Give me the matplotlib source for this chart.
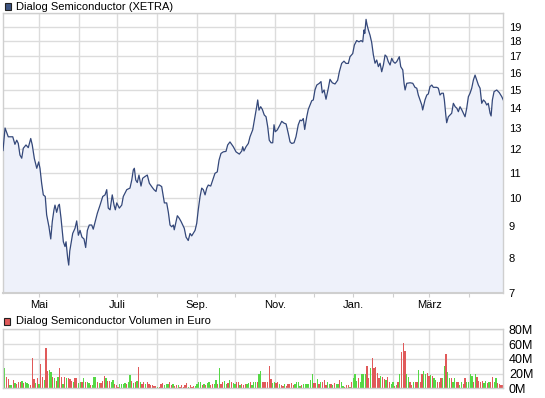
import numpy as np
import matplotlib
matplotlib.use("Agg")
import matplotlib.pyplot as plt
import matplotlib.dates as mdates
from matplotlib.ticker import FixedLocator, NullLocator, FixedFormatter
from matplotlib.patches import Rectangle
import datetime as dt

plt.rcParams['font.family'] = ['Liberation Sans', 'DejaVu Sans']

start_date = dt.datetime(2012, 4, 3)
end_day = 389.7

# price readings: days since start_date, price in EUR
price_day = [0, 1.6, 4.1, 7.6, 9.3, 10.7, 11.9, 13.2, 14.6, 15.8, 17.9, 19.7, 21.6, 22.8, 24.4,
             26.3, 27.8, 28.8, 30.1, 31.4, 32.9, 34.0, 35.8, 37.2, 38.4, 39.7, 40.5, 41.8, 43.1,
             43.9, 45.2, 47.0, 48.3, 49.1, 50.4, 51.2, 52.0, 53.0, 54.3, 56.1, 57.4, 58.7, 60.0,
             61.5, 63.1, 64.4, 65.7, 67.2, 69.1, 70.3, 71.7, 73.5, 75.6, 77.7, 79.5, 80.8, 82.0,
             83.4, 85.1, 86.5, 87.5, 88.6, 90.6, 92.5, 93.7, 96.4, 98.9, 100.3, 101.5, 102.3,
             103.4, 104.6, 105.9, 107.5, 108.8, 110.6, 112.4, 114.0, 115.8, 117.6, 119.2, 120.2,
             121.8, 123.6, 124.9, 125.7, 127.5, 128.8, 130.1, 131.4, 132.7, 133.4, 134.8, 135.8,
             137.3, 138.7, 140.0, 141.2, 142.6, 144.3, 145.7, 147.0, 148.2, 149.6, 150.9, 152.1,
             153.5, 154.8, 156.0, 157.4, 158.7, 159.9, 161.8, 163.4, 165.1, 166.9, 168.3, 169.8,
             171.6, 173.7, 175.0, 176.8, 179.4, 181.5, 184.1, 186.0, 186.7, 187.7, 189.3, 191.1,
             192.4, 194.5, 196.3, 197.6, 198.4, 199.4, 200.7, 202.0, 203.5, 204.9, 206.2, 207.4,
             208.8, 210.1, 211.1, 212.1, 213.7, 215.8, 217.1, 218.9, 220.5, 222.2, 223.6, 224.9,
             226.7, 228.2, 230.0, 231.4, 232.7, 233.9, 235.0, 236.6, 237.8, 239.2, 240.5, 241.7,
             243.0, 244.4, 246.4, 247.7, 248.7, 250.1, 251.6, 253.4, 254.7, 256.5, 258.6, 260.7,
             262.0, 263.8, 265.6, 267.2, 269.0, 270.3, 272.4, 273.7, 275.5, 277.3, 278.9, 280.2,
             281.2, 281.8, 282.8, 283.6, 284.6, 285.9, 287.2, 288.5, 289.8, 291.1, 292.4, 293.7,
             295.0, 296.3, 297.6, 298.9, 300.1, 301.5, 302.8, 304.0, 305.4, 306.7, 308.7, 309.8,
             311.4, 312.4, 313.2, 314.5, 317.1, 319.2, 320.9, 322.3, 323.5, 324.8, 326.2, 326.9,
             328.7, 330.1, 331.3, 332.6, 334.0, 335.2, 337.9, 339.1, 340.4, 341.7, 343.0, 343.8,
             344.9, 345.6, 346.9, 348.2, 349.5, 350.8, 352.2, 353.5, 354.7, 356.0, 357.4, 358.6,
             359.9, 361.2, 362.5, 363.8, 365.1, 366.4, 367.7, 369.0, 370.3, 371.6, 372.9, 374.2,
             375.5, 376.8, 378.0, 379.4, 380.2, 381.2, 382.5, 384.6, 386.6, 388.5, 389.7]
price = [11.95, 13.0, 12.58, 12.58, 12.23, 12.42, 12.27, 11.75, 11.61, 12.05, 12.2, 12.08, 12.5,
         12.2, 11.6, 11.18, 11.45, 11.18, 10.57, 10.12, 10.06, 9.39, 8.98, 8.58, 9.16, 9.57, 9.74,
         9.48, 9.72, 9.77, 9.27, 8.49, 8.34, 8.49, 7.98, 7.78, 8.2, 8.44, 8.76, 8.93, 9.18, 8.7,
         8.86, 8.64, 8.58, 8.31, 8.86, 9.04, 9.04, 8.9, 9.14, 9.45, 9.74, 10.06, 10.12, 10.32, 9.63,
         9.57, 10.12, 9.74, 9.57, 9.82, 9.63, 9.74, 10.06, 10.32, 10.38, 10.7, 11.11, 11.18, 10.7,
         10.6, 10.9, 10.46, 10.77, 10.84, 10.9, 10.57, 10.44, 10.32, 10.25, 10.5, 10.5, 10.44,
         10.06, 9.82, 9.82, 9.48, 9.04, 8.98, 9.04, 8.88, 9.16, 9.36, 9.27, 9.16, 9.04, 8.93, 8.64,
         8.53, 8.76, 8.68, 8.76, 8.86, 9.1, 9.57, 10.06, 10.38, 10.32, 10.12, 10.38, 10.5, 10.46,
         10.7, 10.97, 11.03, 11.53, 11.82, 11.89, 11.91, 12.2, 12.34, 12.12, 11.89, 11.79, 11.93,
         12.12, 11.93, 12.12, 12.27, 12.58, 12.91, 13.56, 14.08, 14.44, 13.9, 14.08, 13.94, 13.65,
         13.56, 13.06, 12.42, 12.3, 12.3, 13.16, 12.82, 12.91, 13.16, 13.33, 13.24, 13.2, 12.74,
         12.34, 12.27, 12.3, 12.58, 13.16, 13.39, 13.36, 13.47, 12.93, 13.56, 13.94, 14.17, 14.4,
         14.44, 14.99, 15.27, 15.37, 15.47, 14.83, 14.99, 14.48, 15.09, 15.6, 15.4, 15.33, 15.55,
         16.05, 16.56, 16.7, 16.56, 16.56, 16.98, 17.18, 17.74, 18.04, 17.95, 18.04, 17.95, 18.77,
         18.53, 19.53, 19.12, 18.77, 18.4, 17.9, 17.09, 16.57, 16.77, 16.36, 16.57, 16.05, 16.46,
         17.09, 16.98, 16.67, 16.46, 16.88, 16.67, 16.57, 16.67, 16.98, 16.36, 16.16, 15.37, 14.99,
         15.37, 15.4, 15.37, 15.14, 15.09, 14.71, 14.44, 14.17, 13.91, 14.44, 14.71, 14.77, 15.18,
         15.27, 15.14, 15.14, 15.09, 14.71, 14.81, 14.81, 14.44, 13.65, 13.26, 13.56, 13.65, 13.74,
         14.26, 14.08, 14.0, 13.82, 14.08, 13.91, 13.74, 13.56, 14.0, 14.62, 14.81, 15.09, 15.56,
         15.85, 15.56, 15.27, 15.09, 14.26, 14.44, 14.35, 14.17, 14.26, 13.74, 13.6, 14.44, 14.9,
         14.99, 14.84, 14.62, 14.44]

# daily volume in million EUR, and whether the session closed up (1) or down (0)
volume = [9.9, 28.0, 15.8, 12.7, 4.5, 4.5, 11.3, 7.7, 5.4, 8.1, 9.0, 9.9, 6.8, 9.0, 6.8, 6.3,
          4.5, 41.6, 12.7, 6.8, 13.6, 6.3, 32.5, 15.8, 11.3, 54.2, 23.5, 24.9, 22.6, 15.8, 13.6,
          9.9, 15.8, 28.0, 15.8, 6.3, 15.8, 14.5, 13.6, 12.7, 9.9, 9.0, 14.5, 14.5, 7.2, 9.0, 9.0,
          14.5, 8.1, 8.1, 6.8, 4.5, 4.5, 15.8, 15.8, 8.1, 6.8, 6.8, 9.9, 16.3, 14.5, 9.9, 9.9, 8.1,
          10.8, 5.4, 4.5, 2.3, 5.4, 5.4, 5.4, 6.8, 5.4, 9.0, 18.1, 9.9, 6.8, 8.1, 9.9, 29.4, 9.0,
          5.4, 9.0, 6.3, 9.0, 6.3, 4.5, 4.5, 3.6, 3.2, 2.3, 2.3, 5.4, 6.8, 4.5, 5.4, 5.4, 8.1, 4.5,
          5.4, 3.2, 4.5, 4.5, 2.3, 4.5, 2.3, 4.5, 6.8, 2.3, 4.5, 2.3, 3.2, 3.6, 6.3, 9.0, 9.0, 4.5,
          6.3, 4.5, 6.8, 8.1, 4.5, 5.4, 6.3, 11.3, 5.4, 27.1, 5.4, 8.1, 9.9, 5.4, 6.8, 11.3, 9.0,
          6.8, 5.4, 8.1, 8.1, 4.5, 5.4, 4.5, 5.4, 5.4, 6.8, 8.1, 4.5, 8.1, 9.0, 8.1, 19.0, 23.5,
          8.1, 8.1, 8.1, 9.0, 30.3,
          12.7, 6.8, 9.0, 6.8, 8.1, 5.4, 4.5, 3.6, 6.3, 3.6, 5.4, 5.4, 6.8, 4.5, 6.3, 9.0, 9.0,
          3.6, 4.5, 6.3, 5.4, 5.4, 5.4, 11.3, 19.4, 6.8, 6.8, 12.7, 6.3, 8.1, 8.1, 11.3, 4.5, 8.1,
          6.3, 5.4, 4.5, 6.8, 6.3, 5.4, 11.3, 9.0, 3.6, 1.8, 4.5, 4.5, 2.3, 8.1, 13.6, 19.0, 9.9,
          14.5, 9.0, 19.0, 19.0, 19.0, 30.3, 14.5, 27.1, 40.7, 28.0, 29.4, 20.3, 13.6, 16.7, 15.8,
          12.7, 11.3, 15.8, 8.1, 5.4, 9.0, 3.6, 4.5, 8.1, 19.0, 49.7, 61.0, 50.6, 19.0, 15.8, 9.0,
          4.5, 8.1, 9.0, 8.1, 24.9, 9.0, 19.0, 23.5, 19.0, 20.3, 17.2, 18.1, 17.2, 13.6, 11.3, 8.1,
          8.1, 13.6, 14.5, 30.3, 46.1, 22.6, 14.5, 13.6, 9.0, 13.6, 9.0, 8.1, 4.5, 8.1, 5.4, 13.6,
          9.0, 9.0, 19.0, 17.2, 9.0, 19.0, 15.8, 9.9, 9.0, 9.9, 6.8, 9.9, 6.8, 8.1, 9.0, 15.8, 9.0,
          13.6, 6.8, 5.4, 4.5, 4.5]
volume_up = [1, 1, 0, 0, 1, 1, 0, 1, 0, 0, 0, 1, 0, 1, 1, 1, 0, 0, 0, 1, 0, 1, 0, 0, 1, 0, 0, 1,
             1, 0, 1, 0, 1, 0, 0, 1, 0, 1, 0, 0, 0, 1, 0, 0, 1, 1, 0, 1, 0, 1, 1, 0, 1, 1, 1, 0, 1,
             0, 0, 0, 1, 0, 0, 1, 1, 0, 0, 0, 1, 1, 1, 1, 0, 1, 1, 0, 1, 0, 1, 0, 1, 0, 0, 1, 0, 0,
             0, 0, 0, 0, 1, 0, 0, 0, 1, 1, 1, 0, 0, 1, 0, 0, 1, 0, 0, 0, 0, 0, 1, 0, 0, 0, 1, 1, 1,
             1, 0, 1, 0, 1, 1, 0, 0, 1, 1, 0, 1, 0, 0, 1, 1, 0, 1, 0, 1, 1, 0, 0, 1, 0, 0, 0, 1, 1,
             0, 1, 1, 1, 0, 1, 1, 0, 0, 0, 0, 0,
             0, 1, 1, 0, 0, 1, 0, 0, 1, 0, 0, 0, 0, 0, 1, 1, 1, 1, 0, 1, 1, 1, 1, 1, 1, 0, 0, 1, 0,
             1, 0, 0, 0, 1, 1, 0, 1, 0, 1, 1, 0, 1, 1, 0, 0, 0, 1, 0, 1, 1, 1, 0, 1, 1, 1, 1, 0, 0,
             1, 0, 0, 0, 0, 0, 1, 0, 0, 1, 0, 0, 1, 1, 0, 1, 0, 1, 0, 0, 0, 1, 1, 0, 0, 1, 0, 0, 1,
             0, 0, 1, 1, 0, 0, 1, 0, 1, 1, 0, 0, 0, 1, 1, 0, 1, 1, 0, 1, 1, 0, 0, 1, 1, 0, 0, 1, 1,
             1, 1, 0, 1, 0, 0, 0, 0, 1, 1, 0, 1, 0, 0, 1, 1, 0, 0, 0, 0, 0]

price_ticks = [7, 8, 9, 10, 11, 12, 13, 14, 15, 16, 17, 18, 19]
volume_ticks = [0, 20, 40, 60, 80]
volume_tick_labels = ['0M', '20M', '40M', '60M', '80M']
month_labels = {5: 'Mai', 7: 'Juli', 9: 'Sep.', 11: 'Nov.', 1: 'Jan.', 3: 'März'}

title_price = 'Dialog Semiconductor (XETRA)'
title_volume = 'Dialog Semiconductor Volumen in Euro'

LINE = '#34487a'
FILL = '#eef1fa'
GRID = '#dcdcdc'
RED = '#e05a5a'
GREEN = '#55d845'

W, H = 545, 398
fig = plt.figure(figsize=(W / 100, H / 100), dpi=100)

def box(l, t, r, b):
    return [l / W, 1 - b / H, (r - l) / W, (b - t) / H]

ax = fig.add_axes(box(3, 13, 503.3, 293.3))
axv = fig.add_axes(box(3, 329.3, 503.3, 388.3))

x0 = mdates.date2num(start_date)
px = x0 + np.array(price_day)
ymin, ymax = 7, 20

ax.fill_between(px, price, ymin, color=FILL, lw=0, zorder=1)
ax.plot(px, price, color=LINE, lw=0.9, zorder=3)
ax.set_yscale('log')
ax.set_ylim(ymin, ymax)
ax.set_xlim(x0, x0 + end_day)

# month ticks
months = []
d = dt.datetime(2012, 5, 1)
while mdates.date2num(d) < x0 + end_day:
    months.append(d)
    d = dt.datetime(d.year + (d.month // 12), d.month % 12 + 1, 1)
mnum = [mdates.date2num(m) for m in months]
mlab = [month_labels.get(m.month, '') for m in months]

for a in (ax, axv):
    a.xaxis.set_major_locator(FixedLocator(mnum))
    a.xaxis.set_minor_locator(NullLocator())
    a.grid(True, color=GRID, lw=1.0, zorder=0)
    a.set_axisbelow(True)
    for s in a.spines.values():
        s.set_color('#cfcfcf')
        s.set_linewidth(1.0)
    a.yaxis.tick_right()
    a.tick_params(axis='y', length=0, pad=4, labelsize=8, colors='black')
    a.tick_params(axis='x', length=3, color='#cfcfcf', labelsize=8, pad=2)

ax.spines['bottom'].set_linewidth(1.5)
ax.xaxis.set_major_formatter(FixedFormatter(mlab))
ax.yaxis.set_major_locator(FixedLocator(price_ticks + [20]))
ax.yaxis.set_minor_locator(NullLocator())
ax.yaxis.set_major_formatter(FixedFormatter([str(t) for t in price_ticks] + ['']))

vx = x0 + np.linspace(0, end_day - 0.4, len(volume))
vcol = [GREEN if u else RED for u in volume_up]
axv.bar(vx, volume, width=1.0, color=vcol, lw=0, zorder=2, antialiased=False)
axv.set_xlim(x0, x0 + end_day)
axv.set_ylim(0, 80)
axv.yaxis.set_major_locator(FixedLocator(volume_ticks))
axv.yaxis.set_major_formatter(FixedFormatter(volume_tick_labels))
axv.tick_params(axis='x', labelbottom=False, length=0)
axv.tick_params(axis='y', labelsize=9)

# legends
fig.patches.append(Rectangle((5 / W, 1 - 9.5 / H), 6 / W, 6.5 / H, transform=fig.transFigure,
                             facecolor='#3d5482', edgecolor='#222222', lw=0.8))
fig.text(16 / W, 1 - 6.5 / H, title_price, fontsize=8, va='center', ha='left')
fig.patches.append(Rectangle((4 / W, 1 - 324.5 / H), 6 / W, 6.5 / H, transform=fig.transFigure,
                             facecolor=RED, edgecolor='#222222', lw=0.8))
fig.text(16 / W, 1 - 321.3 / H, title_volume, fontsize=8, va='center', ha='left')

fig.savefig('out.png', dpi=100)
